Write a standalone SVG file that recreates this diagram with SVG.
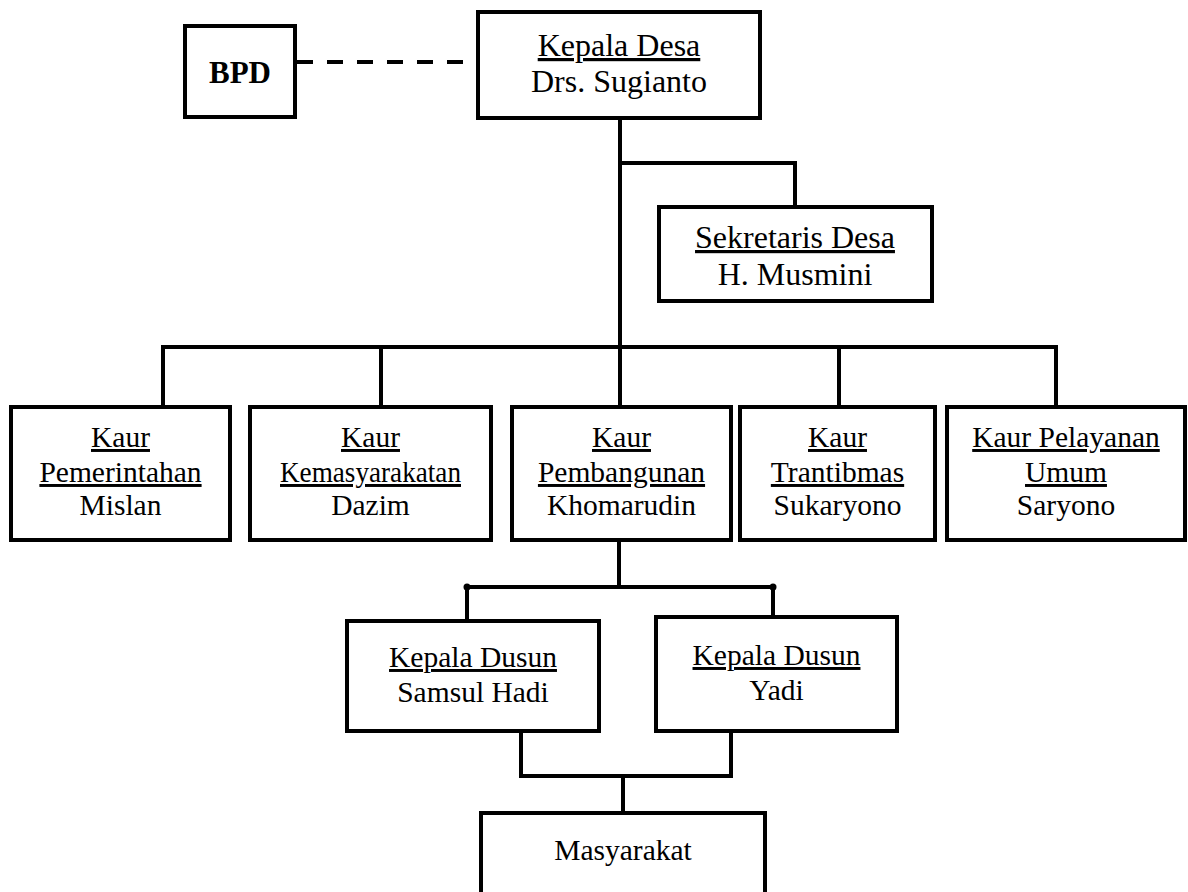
<svg xmlns="http://www.w3.org/2000/svg" width="1188" height="892" viewBox="0 0 1188 892">
<style>
.box{fill:#fff;stroke:#000;stroke-width:4}
.ln{fill:none;stroke:#000;stroke-width:4;stroke-linecap:square}
.t{font-family:"Liberation Serif","Times New Roman",serif;fill:#000;text-anchor:middle}
.big{font-size:32px}
.mid{font-size:29.5px}
.u{text-decoration:underline}
.b{font-weight:bold;font-size:31px}
</style>
<rect width="1188" height="892" fill="#fff"/>
<g id="connectors">
<line class="ln" x1="297" y1="62" x2="476" y2="62" stroke-dasharray="16 14" style="stroke-linecap:butt"/>
<line class="ln" x1="620" y1="118" x2="620" y2="347"/>
<path class="ln" d="M620 163 H795 V207"/>
<line class="ln" x1="163" y1="347" x2="1056" y2="347"/>
<line class="ln" x1="163" y1="347" x2="163" y2="407"/>
<line class="ln" x1="381" y1="347" x2="381" y2="407"/>
<line class="ln" x1="620" y1="347" x2="620" y2="407"/>
<line class="ln" x1="839" y1="347" x2="839" y2="407"/>
<line class="ln" x1="1056" y1="347" x2="1056" y2="407"/>
<line class="ln" x1="619" y1="540" x2="619" y2="587"/>
<line class="ln" x1="467" y1="587" x2="773" y2="587"/>
<circle cx="467" cy="587" r="3.5" fill="#000"/>
<circle cx="773" cy="587" r="3.5" fill="#000"/>
<line class="ln" x1="467" y1="587" x2="467" y2="621"/>
<line class="ln" x1="773" y1="587" x2="773" y2="617"/>
<path class="ln" d="M521 731 V776 H731 V731"/>
<line class="ln" x1="623" y1="776" x2="623" y2="813"/>
</g>
<g id="bpd">
<rect class="box" x="185" y="26" width="110" height="91"/>
<text class="t b" x="240" y="83">BPD</text>
</g>
<g id="kepala-desa">
<rect class="box" x="478" y="12" width="282" height="106"/>
<text class="t big u" x="619" y="56">Kepala Desa</text>
<text class="t big" x="619" y="92">Drs. Sugianto</text>
</g>
<g id="sekretaris">
<rect class="box" x="659" y="207" width="273" height="94"/>
<text class="t big u" x="795" y="248">Sekretaris Desa</text>
<text class="t big" x="795" y="285">H. Musmini</text>
</g>
<g id="kaur-pemerintahan">
<rect class="box" x="11" y="407" width="219" height="133"/>
<text class="t mid u" x="120.5" y="447">Kaur</text>
<text class="t mid u" x="120.5" y="482">Pemerintahan</text>
<text class="t mid" x="120.5" y="515">Mislan</text>
</g>
<g id="kaur-kemasyarakatan">
<rect class="box" x="250" y="407" width="241" height="133"/>
<text class="t mid u" x="370.5" y="447">Kaur</text>
<text class="t mid u" x="370.5" y="482" textLength="181" lengthAdjust="spacingAndGlyphs">Kemasyarakatan</text>
<text class="t mid" x="370.5" y="515">Dazim</text>
</g>
<g id="kaur-pembangunan">
<rect class="box" x="512" y="407" width="219" height="133"/>
<text class="t mid u" x="621.5" y="447">Kaur</text>
<text class="t mid u" x="621.5" y="482">Pembangunan</text>
<text class="t mid" x="621.5" y="515">Khomarudin</text>
</g>
<g id="kaur-trantibmas">
<rect class="box" x="740" y="407" width="195" height="133"/>
<text class="t mid u" x="837.5" y="447">Kaur</text>
<text class="t mid u" x="837.5" y="482">Trantibmas</text>
<text class="t mid" x="837.5" y="515">Sukaryono</text>
</g>
<g id="kaur-pelayanan-umum">
<rect class="box" x="947" y="407" width="238" height="133"/>
<text class="t mid u" x="1066" y="447">Kaur Pelayanan</text>
<text class="t mid u" x="1066" y="482">Umum</text>
<text class="t mid" x="1066" y="515">Saryono</text>
</g>
<g id="kepala-dusun-1">
<rect class="box" x="347" y="621" width="252" height="110"/>
<text class="t mid u" x="473" y="667">Kepala Dusun</text>
<text class="t mid" x="473" y="702">Samsul Hadi</text>
</g>
<g id="kepala-dusun-2">
<rect class="box" x="656" y="617" width="241" height="114"/>
<text class="t mid u" x="776.5" y="665">Kepala Dusun</text>
<text class="t mid" x="776.5" y="700">Yadi</text>
</g>
<g id="masyarakat">
<rect class="box" x="481" y="813" width="284" height="90"/>
<text class="t mid" x="623" y="860">Masyarakat</text>
</g>
</svg>
